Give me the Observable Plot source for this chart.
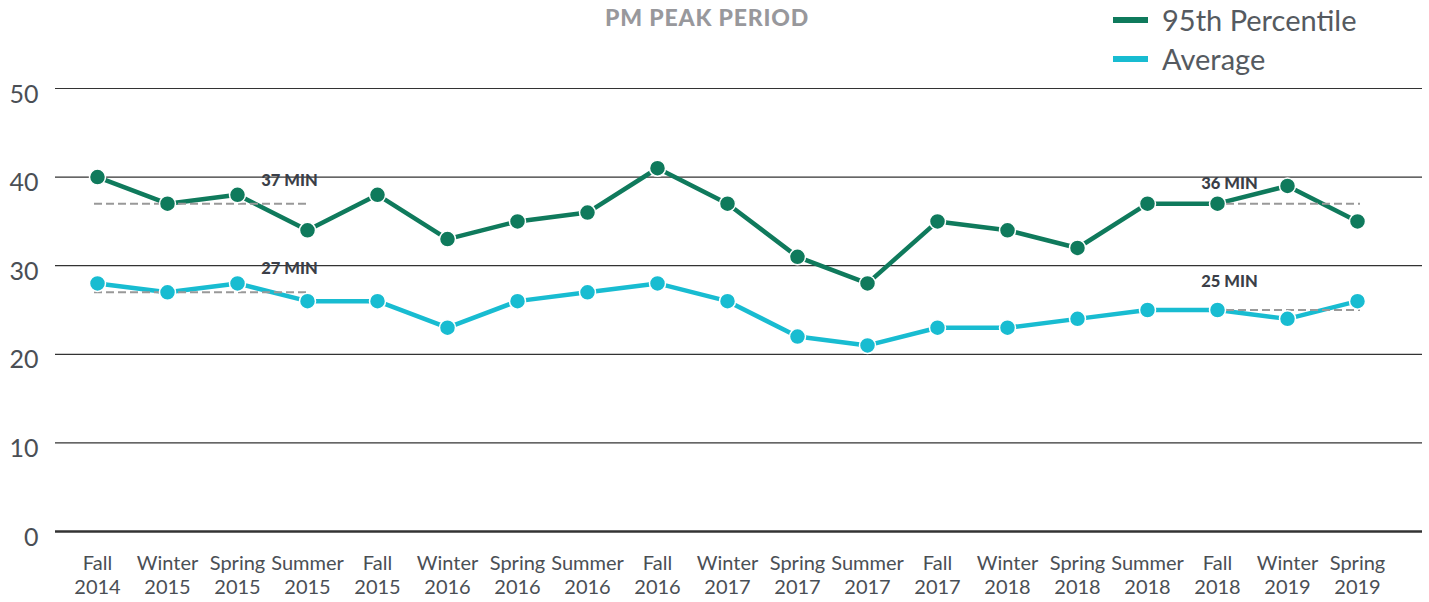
<!DOCTYPE html>
<html>
<head>
<meta charset="utf-8">
<script src="https://cdn.jsdelivr.net/npm/d3@7"></script>
<script src="https://cdn.jsdelivr.net/npm/@observablehq/plot@0.6"></script>
<style>
  html, body { margin: 0; padding: 0; background: #fff; }
  #wrap { position: relative; width: 1429px; height: 602px; font-family: Lato, "Open Sans", sans-serif; }
  #title { position: absolute; left: 0; width: 1414px; top: 3px; text-align: center; font-size: 23px; font-weight: 900; color: #98989c; letter-spacing: 0.8px; }
  #legend { position: absolute; left: 1113px; top: 0px; }
  .item { display: flex; align-items: center; height: 39px; font-size: 29px; color: #555a60; }
  .sw { width: 35px; height: 6px; margin-right: 14px; }
  #chart { position: absolute; left: 0; top: 0; }
</style>
</head>
<body>
<div id="wrap">
  <div id="chart"></div>
  <div id="title">PM PEAK PERIOD</div>
  <div id="legend"></div>
</div>
<script>
const periods = ["Fall 2014","Winter 2015","Spring 2015","Summer 2015","Fall 2015","Winter 2016","Spring 2016","Summer 2016","Fall 2016","Winter 2017","Spring 2017","Summer 2017","Fall 2017","Winter 2018","Spring 2018","Summer 2018","Fall 2018","Winter 2019","Spring 2019"];
const p95 = [40,37,38,34,38,33,35,36,41,37,31,28,35,34,32,37,37,39,35];
const avg = [28,27,28,26,26,23,26,27,28,26,22,21,23,23,24,25,25,24,26];
const seriesNames = ["95th Percentile","Average"];
const seriesColors = ["#0f7a5c","#18bcd1"];
const yTicks = [0,10,20,30,40,50];

// reference (dashed) lines
const refValues = [37,27,37,25];
const refLabels = ["37 MIN","27 MIN","36 MIN","25 MIN"];
const refFrom = ["Fall 2014","Fall 2014","Fall 2018","Fall 2018"];
const refTo = ["Summer 2015","Summer 2015","Spring 2019","Spring 2019"];

const rows = [];
periods.forEach((p,i) => {
  rows.push({period:p, value:p95[i], series:seriesNames[0]});
  rows.push({period:p, value:avg[i], series:seriesNames[1]});
});
const refs = refValues.map((v,i) => ({value:v, label:refLabels[i], from:refFrom[i], to:refTo[i]}));
const labelOffsets = [{dx:-18,dy:-23},{dx:-18,dy:-24},{dx:-128,dy:-20},{dx:-128,dy:-28}];

const chart = Plot.plot({
  width: 1429,
  height: 602,
  marginTop: 88,
  marginBottom: 71,
  marginLeft: 55,
  marginRight: 7,
  style: {fontFamily: "Lato, sans-serif", background: "transparent"},
  x: {domain: periods, type: "point", padding: 0, insetLeft: 42, insetRight: 65},
  y: {domain: [0,50]},
  color: {domain: seriesNames, range: seriesColors},
  marks: [
    Plot.ruleY(yTicks.filter(d => d !== 0), {stroke: "#333", strokeWidth: 1.2}),
    Plot.ruleY([0], {stroke: "#333", strokeWidth: 2.6}),
    Plot.axisY({ticks: yTicks, tickSize: 0, tickPadding: 17, dy: 6, fontSize: 25, fill: "#4a4f55", label: null}),
    Plot.axisX({tickSize: 0, tickPadding: 21, fontSize: 20, fill: "#4a4f55", lineHeight: 1.2, label: null,
      tickFormat: d => d.replace(" ", "\n")}),
    Plot.line(rows, {x: "period", y: "value", z: "series", stroke: "series", strokeWidth: 4.5}),
    Plot.ruleY(refs, {y: "value", x1: "from", x2: "to", stroke: "#999", strokeWidth: 2, strokeDasharray: "8,4", insetLeft: -3, insetRight: -3}),
    Plot.dot(rows, {x: "period", y: "value", fill: "series", stroke: "#fff", strokeWidth: 1.5, r: 8}),
    ...refs.map((r,i) => Plot.text([r], {x: "to", y: "value", text: "label",
      dx: labelOffsets[i].dx, dy: labelOffsets[i].dy,
      fontSize: 16.5, fontWeight: 900, fill: "#3b3f48", letterSpacing: 1.7}))
  ]
});
document.getElementById("chart").appendChild(chart);

const legend = document.getElementById("legend");
seriesNames.forEach((n,i) => {
  const d = document.createElement("div");
  d.className = "item";
  d.innerHTML = `<span class="sw" style="background:${seriesColors[i]}"></span><span>${n}</span>`;
  legend.appendChild(d);
});
</script>
</body>
</html>
